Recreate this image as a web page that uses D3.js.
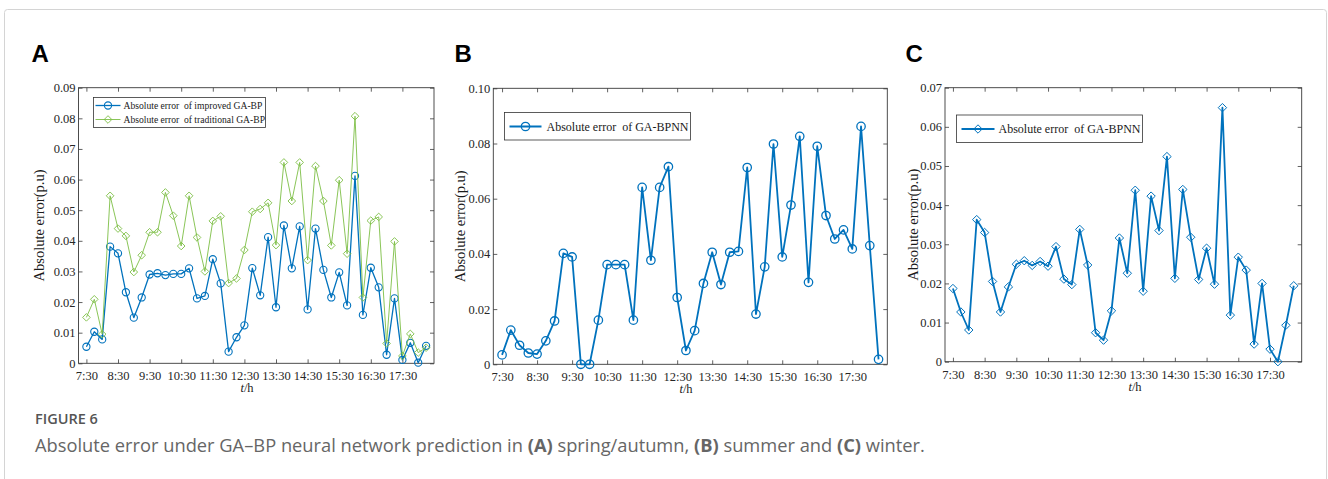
<!DOCTYPE html>
<html>
<head>
<meta charset="utf-8">
<script src="https://cdn.jsdelivr.net/npm/d3@7"></script>
<style>
  body { margin: 0; background: #fff; }
  svg { display: block; }
</style>
</head>
<body>
<svg id="fig" width="1328" height="479"></svg>
<script>
// ---- data: absolute prediction error (p.u) sampled every 15 min, 7:30 onwards ----
const timeLabels = ["7:30","8:30","9:30","10:30","11:30","12:30","13:30","14:30","15:30","16:30","17:30"];
const timeTickIndex = [1,5,9,13,17,21,25,29,33,37,41];

// (A) spring / autumn
const improvedGABP = [
  0.0054,0.0103,0.0078,0.0381,0.0359,0.0232,0.0149,0.0215,0.0290,0.0294,0.0288,0.0292,
  0.0292,0.0310,0.0212,0.0220,0.0340,0.0261,0.0038,0.0085,0.0124,0.0311,0.0222,0.0412,
  0.0183,0.0450,0.0310,0.0447,0.0176,0.0440,0.0305,0.0215,0.0297,0.0189,0.0612,0.0158,
  0.0312,0.0248,0.0028,0.0212,0.0011,0.0067,0.0002,0.0057
];
const traditionalGABP = [
  0.0150,0.0209,0.0095,0.0547,0.0440,0.0416,0.0298,0.0353,0.0428,0.0428,0.0558,0.0482,
  0.0383,0.0547,0.0411,0.0300,0.0465,0.0480,0.0262,0.0277,0.0370,0.0495,0.0504,0.0524,
  0.0386,0.0656,0.0530,0.0656,0.0337,0.0644,0.0530,0.0385,0.0598,0.0358,0.0807,0.0215,
  0.0466,0.0478,0.0065,0.0398,0.0024,0.0096,0.0035,0.0051
];
// (B) summer
const summerGABPNN = [
  0.0034,0.0124,0.0069,0.0041,0.0037,0.0085,0.0157,0.0402,0.0389,0.0000,0.0000,0.0160,
  0.0361,0.0361,0.0361,0.0160,0.0641,0.0377,0.0641,0.0716,0.0242,0.0050,0.0122,0.0293,
  0.0406,0.0289,0.0406,0.0409,0.0713,0.0182,0.0353,0.0798,0.0389,0.0577,0.0826,0.0297,
  0.0790,0.0539,0.0454,0.0487,0.0418,0.0862,0.0430,0.0018
];
// (C) winter
const winterGABPNN = [
  0.0187,0.0127,0.0081,0.0363,0.0330,0.0205,0.0127,0.0191,0.0249,0.0258,0.0246,0.0256,
  0.0244,0.0294,0.0211,0.0197,0.0338,0.0247,0.0074,0.0055,0.0130,0.0316,0.0226,0.0438,
  0.0180,0.0423,0.0335,0.0524,0.0213,0.0440,0.0318,0.0210,0.0290,0.0198,0.0649,0.0119,
  0.0267,0.0234,0.0045,0.0200,0.0032,0.0000,0.0093,0.0194
];

const yTicksA = [0,0.01,0.02,0.03,0.04,0.05,0.06,0.07,0.08,0.09];
const yTicksB = [0,0.02,0.04,0.06,0.08,0.10];
const yTicksC = [0,0.01,0.02,0.03,0.04,0.05,0.06,0.07];

const BLUE = "#0072BD";
const GREEN = "#7DBE45";
const AXIS = "#3a3a3a";
const SERIF = "'Liberation Serif','Times New Roman',serif";

const svg = d3.select("#fig");

// outer frame of the figure
svg.append("rect")
  .attr("x", 4.5).attr("y", 9.5)
  .attr("width", 1322).attr("height", 500)
  .attr("rx", 3)
  .attr("fill", "none").attr("stroke", "#d4d4d4").attr("stroke-width", 1);

function diamondPath(r) {
  return `M0,${-r}L${r},0L0,${r}L${-r},0Z`;
}

function drawPanel(cfg) {
  const g = svg.append("g");
  const x = d3.scaleLinear().domain([0, 45]).range([cfg.left, cfg.right]);
  const y = d3.scaleLinear().domain([0, cfg.yMax]).range([cfg.bottom, cfg.top]);

  const fmt = cfg.yFormat;

  // bottom axis with labels, ticks pointing inward
  const bx = g.append("g").attr("transform", `translate(0,${cfg.bottom})`)
    .call(d3.axisBottom(x).tickValues(timeTickIndex)
      .tickFormat((d, i) => timeLabels[i])
      .tickSizeInner(-4).tickSizeOuter(0).tickPadding(8));
  // top axis (ticks only)
  const tx = g.append("g").attr("transform", `translate(0,${cfg.top})`)
    .call(d3.axisTop(x).tickValues(timeTickIndex).tickFormat("")
      .tickSizeInner(-4).tickSizeOuter(0));
  // left axis with labels
  const ly = g.append("g").attr("transform", `translate(${cfg.left},0)`)
    .call(d3.axisLeft(y).tickValues(cfg.yTicks).tickFormat(fmt)
      .tickSizeInner(-4).tickSizeOuter(0).tickPadding(3));
  // right axis (ticks only)
  const ry = g.append("g").attr("transform", `translate(${cfg.right},0)`)
    .call(d3.axisRight(y).tickValues(cfg.yTicks).tickFormat("")
      .tickSizeInner(-4).tickSizeOuter(0));

  [bx, tx, ly, ry].forEach(a => {
    a.select(".domain").remove();
    a.selectAll(".tick line").attr("stroke", AXIS).attr("stroke-width", 0.8);
    a.selectAll(".tick text")
      .attr("font-family", SERIF).attr("font-size", 12.5).attr("fill", "#262626");
  });

  // axes box
  g.append("rect")
    .attr("x", cfg.left).attr("y", cfg.top)
    .attr("width", cfg.right - cfg.left).attr("height", cfg.bottom - cfg.top)
    .attr("fill", "none").attr("stroke", AXIS).attr("stroke-width", 0.9);

  // axis titles
  g.append("text")
    .attr("transform", `translate(${cfg.yTitleX},${(cfg.top + cfg.bottom) / 2}) rotate(-90)`)
    .attr("text-anchor", "middle").attr("dy", "0.35em")
    .attr("font-family", SERIF).attr("font-size", 14.5).attr("fill", "#1a1a1a")
    .text("Absolute error(p.u)");
  const xt = g.append("text")
    .attr("x", cfg.xTitleX).attr("y", cfg.bottom + 29)
    .attr("text-anchor", "middle")
    .attr("font-family", SERIF).attr("font-size", 12.5).attr("fill", "#1a1a1a");
  xt.append("tspan").attr("font-style", "italic").text("t");
  xt.append("tspan").text("/h");

  // panel letter
  g.append("text")
    .attr("x", cfg.letterX).attr("y", 61.5)
    .attr("font-family", "'Liberation Sans',Arial,sans-serif")
    .attr("font-weight", "bold").attr("font-size", 24).attr("fill", "#000")
    .text(cfg.letter);

  const line = d3.line().x((d, i) => x(i + 1)).y(d => y(d));

  cfg.series.forEach(s => {
    g.append("path").datum(s.values)
      .attr("d", line)
      .attr("fill", "none").attr("stroke", s.color)
      .attr("stroke-width", s.lineWidth).attr("stroke-linejoin", "round");
    const m = g.append("g").selectAll("path").data(s.values).join("path")
      .attr("transform", (d, i) => `translate(${x(i + 1)},${y(d)})`)
      .attr("fill", "none").attr("stroke", s.color).attr("stroke-width", s.markerWidth);
    if (s.marker === "circle") m.attr("d", d3.arc()({innerRadius: 0, outerRadius: s.markerSize, startAngle: 0, endAngle: 2 * Math.PI}));
    else m.attr("d", diamondPath(s.markerSize));
  });

  // legend
  const L = cfg.legend;
  g.append("rect")
    .attr("x", L.x).attr("y", L.y).attr("width", L.w).attr("height", L.h)
    .attr("fill", "#fff").attr("stroke", "#333").attr("stroke-width", 0.8);
  cfg.series.forEach((s, k) => {
    const cy = L.y + L.rowY[k];
    g.append("line")
      .attr("x1", L.x + L.lineX[0]).attr("x2", L.x + L.lineX[1])
      .attr("y1", cy).attr("y2", cy)
      .attr("stroke", s.color).attr("stroke-width", s.lineWidth);
    const mx = L.x + (L.lineX[0] + L.lineX[1]) / 2;
    const mk = g.append("path")
      .attr("transform", `translate(${mx},${cy})`)
      .attr("fill", "none").attr("stroke", s.color).attr("stroke-width", s.markerWidth);
    if (s.marker === "circle") mk.attr("d", d3.arc()({innerRadius: 0, outerRadius: s.markerSize, startAngle: 0, endAngle: 2 * Math.PI}));
    else mk.attr("d", diamondPath(s.markerSize));
    g.append("text")
      .attr("x", L.x + L.textX).attr("y", cy).attr("dy", "0.35em")
      .attr("font-family", SERIF).attr("font-size", L.fontSize).attr("fill", "#1a1a1a")
      .attr("xml:space", "preserve")
      .text(s.name);
  });
}

const fmt2 = d => d === 0 ? "0" : d3.format(".2f")(d);

drawPanel({
  letter: "A", letterX: 31.5,
  left: 78.5, right: 434, top: 87.7, bottom: 363.3,
  yMax: 0.09, yTicks: yTicksA, yFormat: fmt2,
  yTitleX: 38.5, xTitleX: 247,
  series: [
    {name: "Absolute error  of improved GA-BP", values: improvedGABP, color: BLUE,
     lineWidth: 1.3, marker: "circle", markerSize: 3.6, markerWidth: 1.1},
    {name: "Absolute error  of traditional GA-BP", values: traditionalGABP, color: GREEN,
     lineWidth: 0.9, marker: "diamond", markerSize: 3.8, markerWidth: 0.9}
  ],
  legend: {x: 93.5, y: 97.5, w: 172, h: 30, rowY: [8, 22], lineX: [2, 27], textX: 30, fontSize: 9.6}
});

drawPanel({
  letter: "B", letterX: 454.5,
  left: 493.3, right: 887.3, top: 88.3, bottom: 364.3,
  yMax: 0.10, yTicks: yTicksB, yFormat: fmt2,
  yTitleX: 460, xTitleX: 686,
  series: [
    {name: "Absolute error  of GA-BPNN", values: summerGABPNN, color: BLUE,
     lineWidth: 1.8, marker: "circle", markerSize: 4.2, markerWidth: 1.3}
  ],
  legend: {x: 504.5, y: 112.5, w: 186, h: 27.5, rowY: [14], lineX: [5, 37], textX: 42, fontSize: 12}
});

drawPanel({
  letter: "C", letterX: 905.5,
  left: 945, right: 1301.7, top: 87.7, bottom: 361.7,
  yMax: 0.07, yTicks: yTicksC, yFormat: fmt2,
  yTitleX: 912.7, xTitleX: 1135,
  series: [
    {name: "Absolute error  of GA-BPNN", values: winterGABPNN, color: BLUE,
     lineWidth: 1.8, marker: "diamond", markerSize: 4.2, markerWidth: 1.0}
  ],
  legend: {x: 956.5, y: 115, w: 186, h: 27.5, rowY: [14], lineX: [5, 38], textX: 42, fontSize: 12}
});

// caption
svg.append("text")
  .attr("x", 35).attr("y", 424)
  .attr("font-family", "'Open Sans','Noto Sans',sans-serif")
  .attr("font-weight", 600).attr("font-size", 14.5).attr("fill", "#555")
  .text("FIGURE 6");
const cap = svg.append("text")
  .attr("x", 35).attr("y", 452)
  .attr("font-family", "'Open Sans','Noto Sans',sans-serif")
  .attr("font-size", 18.3).attr("fill", "#666");
[["Absolute error under GA\u2013BP neural network prediction in ", false], ["(A)", true],
 [" spring/autumn, ", false], ["(B)", true], [" summer and ", false], ["(C)", true], [" winter.", false]]
  .forEach(([t, b]) => cap.append("tspan").attr("font-weight", b ? 700 : 400).text(t));
</script>
</body>
</html>
